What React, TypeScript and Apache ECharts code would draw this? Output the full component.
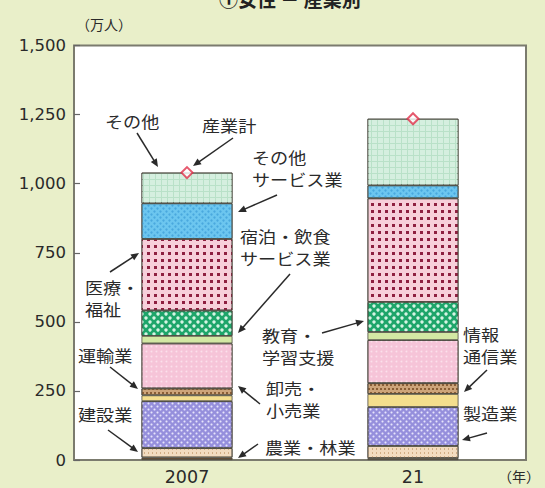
import { useEffect, useRef } from 'react';
import * as echarts from 'echarts';

// 年（カテゴリ）
const years = ['2007', '21'];

// 産業別の人数（万人）
const agriculture = [9, 7]; // 農業・林業
const construction = [34, 44]; // 建設業
const manufacturing = [170, 141]; // 製造業
const infoComm = [21, 47]; // 情報通信業
const transport = [25, 39]; // 運輸業
const wholesaleRetail = [163, 156]; // 卸売・小売業
const accommodationFood = [27, 29]; // 宿泊・飲食サービス業
const education = [92, 109]; // 教育・学習支援
const medicalWelfare = [259, 375]; // 医療・福祉
const otherServices = [129, 47]; // その他サービス業
const others = [111, 241]; // その他
const industryTotal = [1040, 1235]; // 産業計

// 縦軸
const yMin = 0;
const yMax = 1500;
const yStep = 250;

const CJK = '"Noto Sans CJK JP", "Noto Sans", sans-serif';
const NUM = '"DejaVu Sans", sans-serif';
const INK = '#2a2a2a';

type Seg = { name: string; data: number[]; color: string; decal?: any };

const segments: Seg[] = [
  { name: '農業・林業', data: agriculture, color: '#6b4f33' },
  {
    name: '建設業', data: construction, color: '#f3dcc0',
    decal: { symbol: 'rect', symbolSize: 1, color: '#d2ae86', dashArrayX: [[1, 3]], dashArrayY: [2, 2] },
  },
  {
    name: '製造業', data: manufacturing, color: '#958fdc',
    decal: { symbol: 'circle', symbolSize: 0.7, color: '#e6e4fb', dashArrayX: [[3, 3], [0, 3, 3, 0]], dashArrayY: [3, 0] },
  },
  { name: '情報通信業', data: infoComm, color: '#f4de8e' },
  {
    name: '運輸業', data: transport, color: '#cda47a',
    decal: { symbol: 'rect', symbolSize: 1, color: '#8a5e36', dashArrayX: [[2, 2], [0, 2, 2, 0]], dashArrayY: [1.5, 1.5] },
  },
  {
    name: '卸売・小売業', data: wholesaleRetail, color: '#f6c4d8',
    decal: { symbol: 'circle', symbolSize: 0.6, color: '#fbe0eb', dashArrayX: [[3, 2]], dashArrayY: [3, 2] },
  },
  { name: '宿泊・飲食サービス業', data: accommodationFood, color: '#d3e8a4' },
  {
    name: '教育・学習支援', data: education, color: '#1ea56a',
    decal: { symbol: 'circle', symbolSize: 0.85, color: '#d6f4e4', dashArrayX: [[3.5, 3.5], [0, 3.5, 3.5, 0]], dashArrayY: [3.5, 0] },
  },
  {
    name: '医療・福祉', data: medicalWelfare, color: '#f7cfda',
    decal: { symbol: 'rect', symbolSize: 1, color: '#8e1f40', dashArrayX: [[2.5, 4]], dashArrayY: [2.5, 3.5] },
  },
  {
    name: 'その他サービス業', data: otherServices, color: '#6cc6ef',
    decal: { symbol: 'circle', symbolSize: 0.8, color: '#4aa9de', dashArrayX: [[3, 3], [0, 3, 3, 0]], dashArrayY: [3, 0] },
  },
  {
    name: 'その他', data: others, color: '#b9e1c8',
    decal: { symbol: 'rect', symbolSize: 1, color: '#d5efdf', dashArrayX: [[5, 1]], dashArrayY: [5, 1] },
  },
];

// 注記ラベル（テキスト行と矢印）
type Note = { lines: string[]; x: number; y: number; from?: [number, number]; to?: [number, number] };

const notes: Note[] = [
  { lines: ['その他'], x: 105, y: 121, from: [137, 133], to: [158, 167] },
  { lines: ['産業計'], x: 202, y: 125, from: [233, 138], to: [193, 166] },
  { lines: ['その他', 'サービス業'], x: 252, y: 157, from: [277, 195], to: [238, 212] },
  { lines: ['宿泊・飲食', 'サービス業'], x: 240, y: 236, from: [290, 274], to: [238, 333] },
  { lines: ['医療・', '福祉'], x: 85, y: 287, from: [110, 272], to: [139, 253] },
  { lines: ['教育・', '学習支援'], x: 262, y: 335, from: [322, 333], to: [364, 321] },
  { lines: ['運輸業'], x: 78, y: 355, from: [110, 367], to: [138, 389] },
  { lines: ['卸売・', '小売業'], x: 266, y: 388, from: [260, 404], to: [238, 386] },
  { lines: ['建設業'], x: 78, y: 414, from: [108, 430], to: [138, 452] },
  { lines: ['農業・林業'], x: 265, y: 447, from: [258, 444], to: [238, 458] },
  { lines: ['情報', '通信業'], x: 463, y: 334, from: [487, 370], to: [464, 392] },
  { lines: ['製造業'], x: 463, y: 413, from: [487, 433], to: [462, 440] },
];

function noteGraphics(): any[] {
  const out: any[] = [];
  notes.forEach((n) => {
    n.lines.forEach((t, i) => {
      out.push({
        type: 'text',
        x: n.x,
        y: n.y + i * 22.5,
        scaleX: 1.17,
        z: 100,
        style: { text: t, fontSize: 15.5, fontFamily: CJK, fill: INK, align: 'left', verticalAlign: 'middle' },
      });
    });
    if (n.from && n.to) {
      const [x1, y1] = n.from;
      const [x2, y2] = n.to;
      const dx = x2 - x1;
      const dy = y2 - y1;
      const len = Math.hypot(dx, dy);
      const ux = dx / len;
      const uy = dy / len;
      const head = 8;
      const half = 3.5;
      const bx = x2 - ux * head;
      const by = y2 - uy * head;
      out.push({
        type: 'line', z: 100,
        shape: { x1, y1, x2: x2 - ux * 6, y2: y2 - uy * 6 },
        style: { stroke: INK, lineWidth: 1.5 },
      });
      out.push({
        type: 'polygon', z: 100,
        shape: { points: [[x2, y2], [bx - uy * half, by + ux * half], [bx + uy * half, by - ux * half]] },
        style: { fill: INK },
      });
    }
  });
  return out;
}

export default function App() {
  const ref = useRef<HTMLDivElement>(null);

  useEffect(() => {
    const chart = echarts.init(ref.current!, null, { renderer: 'svg' });

    const barSeries = segments.map((s) => ({
      name: s.name,
      type: 'bar',
      stack: 'total',
      barWidth: 91,
      data: s.data,
      itemStyle: {
        color: s.color,
        borderColor: '#4d4a40',
        borderWidth: 0.8,
        ...(s.decal ? { decal: s.decal } : {}),
      },
    }));

    chart.setOption({
      animation: false,
      backgroundColor: '#e9efc9',
      grid: {
        left: 74, right: 19, top: 45.5, bottom: 28,
        show: true, backgroundColor: '#ffffff', borderColor: '#7b7b6e', borderWidth: 2,
      },
      xAxis: {
        type: 'category',
        data: years,
        axisLine: { show: false },
        axisTick: { show: false },
        axisLabel: { fontSize: 17.5, fontFamily: NUM, color: INK, margin: 8 },
      },
      yAxis: {
        type: 'value',
        min: yMin,
        max: yMax,
        interval: yStep,
        splitLine: { show: false },
        axisLine: { show: false },
        axisTick: { show: true, inside: true, length: 6, lineStyle: { color: '#666', width: 1.2 } },
        axisLabel: {
          fontSize: 16.5, fontFamily: NUM, color: INK, margin: 8,
          formatter: (v: number) => v.toLocaleString('en-US'),
        },
      },
      series: [
        ...barSeries,
        {
          name: '産業計',
          type: 'scatter',
          data: industryTotal,
          symbol: 'diamond',
          symbolSize: 11,
          z: 10,
          itemStyle: { color: '#ffffff', borderColor: '#e0304a', borderWidth: 2 },
        },
      ],
      graphic: [
        {
          type: 'text', x: 219, y: 8, z: 100,
          style: { text: '①女性 － 産業別', fontSize: 19, fontWeight: 'bold', fontFamily: CJK, fill: '#222', align: 'left', verticalAlign: 'bottom' },
        },
        {
          type: 'text', x: 76, y: 24, z: 100,
          style: { text: '（万人）', fontSize: 14, fontFamily: CJK, fill: INK, align: 'left', verticalAlign: 'middle' },
        },
        {
          type: 'text', x: 498, y: 476, z: 100,
          style: { text: '（年）', fontSize: 14, fontFamily: CJK, fill: INK, align: 'left', verticalAlign: 'middle' },
        },
        ...noteGraphics(),
      ],
    });

    return () => chart.dispose();
  }, []);

  return <div ref={ref} style={{ position: 'fixed', left: 0, top: 0, width: 545, height: 488 }} />;
}
